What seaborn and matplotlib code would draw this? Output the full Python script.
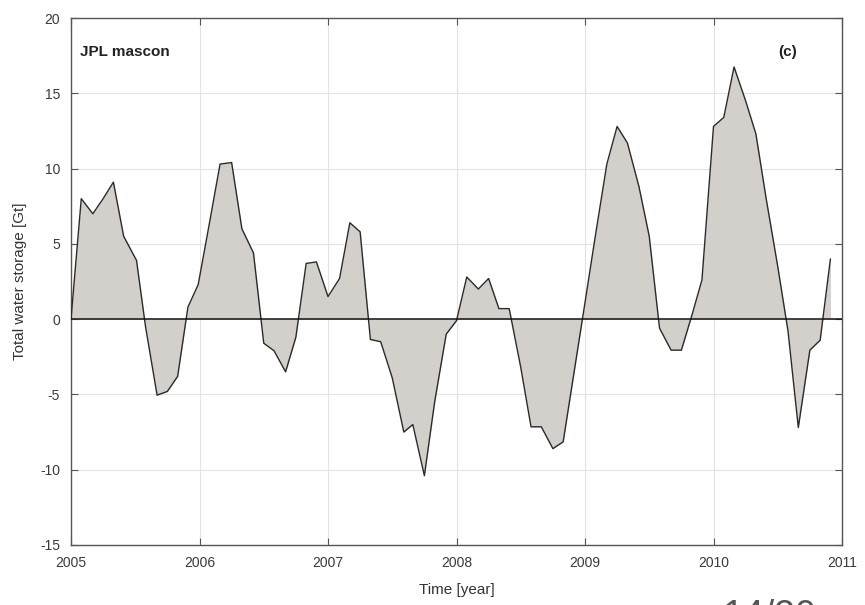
import numpy as np
import pandas as pd
import matplotlib
matplotlib.use("Agg")
import matplotlib.pyplot as plt
import seaborn as sns

# Monatliche Werte
years = [2005.00, 2005.08, 2005.17, 2005.25, 2005.33, 2005.41, 2005.51, 2005.58,
         2005.67, 2005.75, 2005.83, 2005.91, 2005.99, 2006.08, 2006.16, 2006.25,
         2006.33, 2006.42, 2006.50, 2006.58, 2006.67, 2006.75, 2006.83, 2006.91,
         2007.00, 2007.09, 2007.17, 2007.25, 2007.33, 2007.41, 2007.50, 2007.59,
         2007.66, 2007.75, 2007.83, 2007.92, 2008.00, 2008.08, 2008.17, 2008.25,
         2008.33, 2008.41, 2008.50, 2008.58, 2008.66, 2008.75, 2008.83, 2008.91,
         2009.00, 2009.08, 2009.17, 2009.25, 2009.33, 2009.42, 2009.50, 2009.58,
         2009.67, 2009.75, 2009.83, 2009.91, 2010.00, 2010.08, 2010.16, 2010.25,
         2010.33, 2010.41, 2010.50, 2010.58, 2010.66, 2010.75, 2010.83, 2010.91]
tws = [0.0, 8.0, 7.0, 8.0, 9.1, 5.5, 3.9, -0.5,
       -5.05, -4.8, -3.8, 0.8, 2.3, 6.5, 10.3, 10.4,
       6.0, 4.4, -1.6, -2.1, -3.5, -1.2, 3.7, 3.8,
       1.5, 2.7, 6.4, 5.8, -1.35, -1.5, -3.9, -7.5,
       -7.0, -10.4, -5.5, -1.0, -0.1, 2.8, 2.0, 2.7,
       0.7, 0.7, -3.2, -7.15, -7.15, -8.6, -8.15, -3.8,
       1.1, 5.5, 10.3, 12.8, 11.7, 8.8, 5.5, -0.6,
       -2.06, -2.06, 0.2, 2.6, 12.8, 13.4, 16.75, 14.5,
       12.3, 8.0, 3.5, -0.8, -7.2, -2.06, -1.4, 4.0]

x_ticks = [2005, 2006, 2007, 2008, 2009, 2010, 2011]
y_ticks = [-15, -10, -5, 0, 5, 10, 15, 20]

df = pd.DataFrame({"year": years, "tws": tws})

sns.set_style("whitegrid")
plt.rcParams["font.family"] = ["Liberation Sans", "DejaVu Sans"]
plt.rcParams["axes.unicode_minus"] = False

fig = plt.figure(figsize=(8.65, 6.05), dpi=100)
ax = fig.add_axes([71 / 865, 1 - 545 / 605, (842 - 71) / 865, (545 - 18) / 605])

ax.fill_between(df["year"], df["tws"], 0, color="#d3cfca", linewidth=0, zorder=2)
sns.lineplot(data=df, x="year", y="tws", ax=ax, color="#2a2a2a",
             linewidth=1.0, zorder=3)
ax.axhline(0, color="#111111", linewidth=1.1, zorder=4)

ax.set_xlim(2005, 2011)
ax.set_ylim(-15, 20)
ax.set_xticks(x_ticks)
ax.set_yticks(y_ticks)
ax.grid(True, color="#e3e3e3", linewidth=0.8)
ax.set_axisbelow(True)
for s in ax.spines.values():
    s.set_color("#555555")
    s.set_linewidth(1.0)
ax.tick_params(direction="in", length=5, width=0.8, colors="#555555",
               labelcolor="#3a3a3a", labelsize=10, top=True, right=True,
               left=True, bottom=True)
ax.tick_params(axis="x", pad=8)
ax.tick_params(axis="y", pad=8)
ax.set_xlabel("Time [year]", fontsize=11, color="#333333", labelpad=9)
ax.set_ylabel("Total water storage [Gt]", fontsize=11, color="#333333", labelpad=9)

ax.text(0.012, 0.935, "JPL mascon", transform=ax.transAxes, fontsize=11,
        fontweight="bold", color="#222222", va="center", ha="left")
ax.text(0.93, 0.935, "(c)", transform=ax.transAxes, fontsize=11,
        fontweight="bold", color="#222222", va="center", ha="center")

# Seitenzahl der Folie, unten abgeschnitten
fig.text(722 / 865, -0.05, "14/20", fontsize=27, color="#555555",
         ha="left", va="bottom")

fig.savefig("out.png", dpi=100)
